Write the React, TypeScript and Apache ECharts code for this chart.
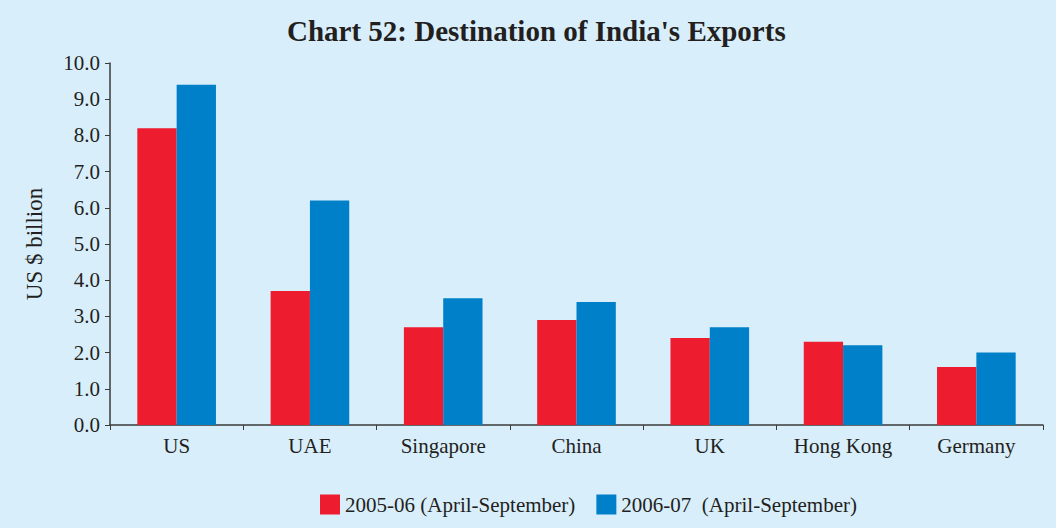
import React, { useEffect, useRef } from "react";
import * as echarts from "echarts";

const categories = ["US", "UAE", "Singapore", "China", "UK", "Hong Kong", "Germany"];
const series2005 = [8.2, 3.7, 2.7, 2.9, 2.4, 2.3, 1.6];
const series2006 = [9.4, 6.2, 3.5, 3.4, 2.7, 2.2, 2.0];
const seriesNames = ["2005-06 (April-September)", "2006-07  (April-September)"];

const FONT = "'Liberation Serif', 'Times New Roman', serif";

export default function App() {
  const ref = useRef<HTMLDivElement>(null);
  useEffect(() => {
    document.body.style.margin = "0";
    const chart = echarts.init(ref.current!, null, { renderer: "svg" });
    chart.setOption({
      animation: false,
      backgroundColor: "#d9eefb",
      title: {
        text: "Chart 52: Destination of India's Exports",
        left: 282,
        top: 11,
        textStyle: { fontFamily: FONT, fontSize: 29, fontWeight: "bold", color: "#231f20" },
      },
      legend: {
        left: 315,
        top: 489,
        itemWidth: 20,
        itemHeight: 20,
        itemGap: 21,
        icon: "rect",
        textStyle: { fontFamily: FONT, fontSize: 21, color: "#231f20" },
        data: seriesNames,
      },
      grid: { left: 110, right: 13, top: 63, bottom: 103, containLabel: false },
      xAxis: {
        type: "category",
        data: categories,
        axisLine: { lineStyle: { color: "#3a3a3a", width: 1.5 } },
        axisTick: { show: true, length: 5, lineStyle: { color: "#3a3a3a" } },
        axisLabel: { fontFamily: FONT, fontSize: 21, color: "#231f20", margin: 10 },
      },
      yAxis: {
        type: "value",
        min: 0,
        max: 10,
        interval: 1,
        name: "US $ billion",
        nameLocation: "middle",
        nameGap: 64,
        nameTextStyle: { fontFamily: FONT, fontSize: 23, color: "#231f20" },
        axisLine: { show: true, lineStyle: { color: "#3a3a3a", width: 1.5 } },
        axisTick: { show: true, length: 5, lineStyle: { color: "#3a3a3a" } },
        splitLine: { show: false },
        axisLabel: {
          fontFamily: FONT,
          fontSize: 21,
          color: "#231f20",
          margin: 10,
          formatter: (v: number) => v.toFixed(1),
        },
      },
      series: [
        {
          name: seriesNames[0],
          type: "bar",
          data: series2005,
          itemStyle: { color: "#ed1c2e" },
          barGap: "0%",
          barCategoryGap: "41%",
        },
        {
          name: seriesNames[1],
          type: "bar",
          data: series2006,
          itemStyle: { color: "#0080c8" },
          barGap: "0%",
          barCategoryGap: "41%",
        },
      ],
    });
    return () => chart.dispose();
  }, []);
  return <div ref={ref} style={{ width: 1056, height: 528 }} />;
}
